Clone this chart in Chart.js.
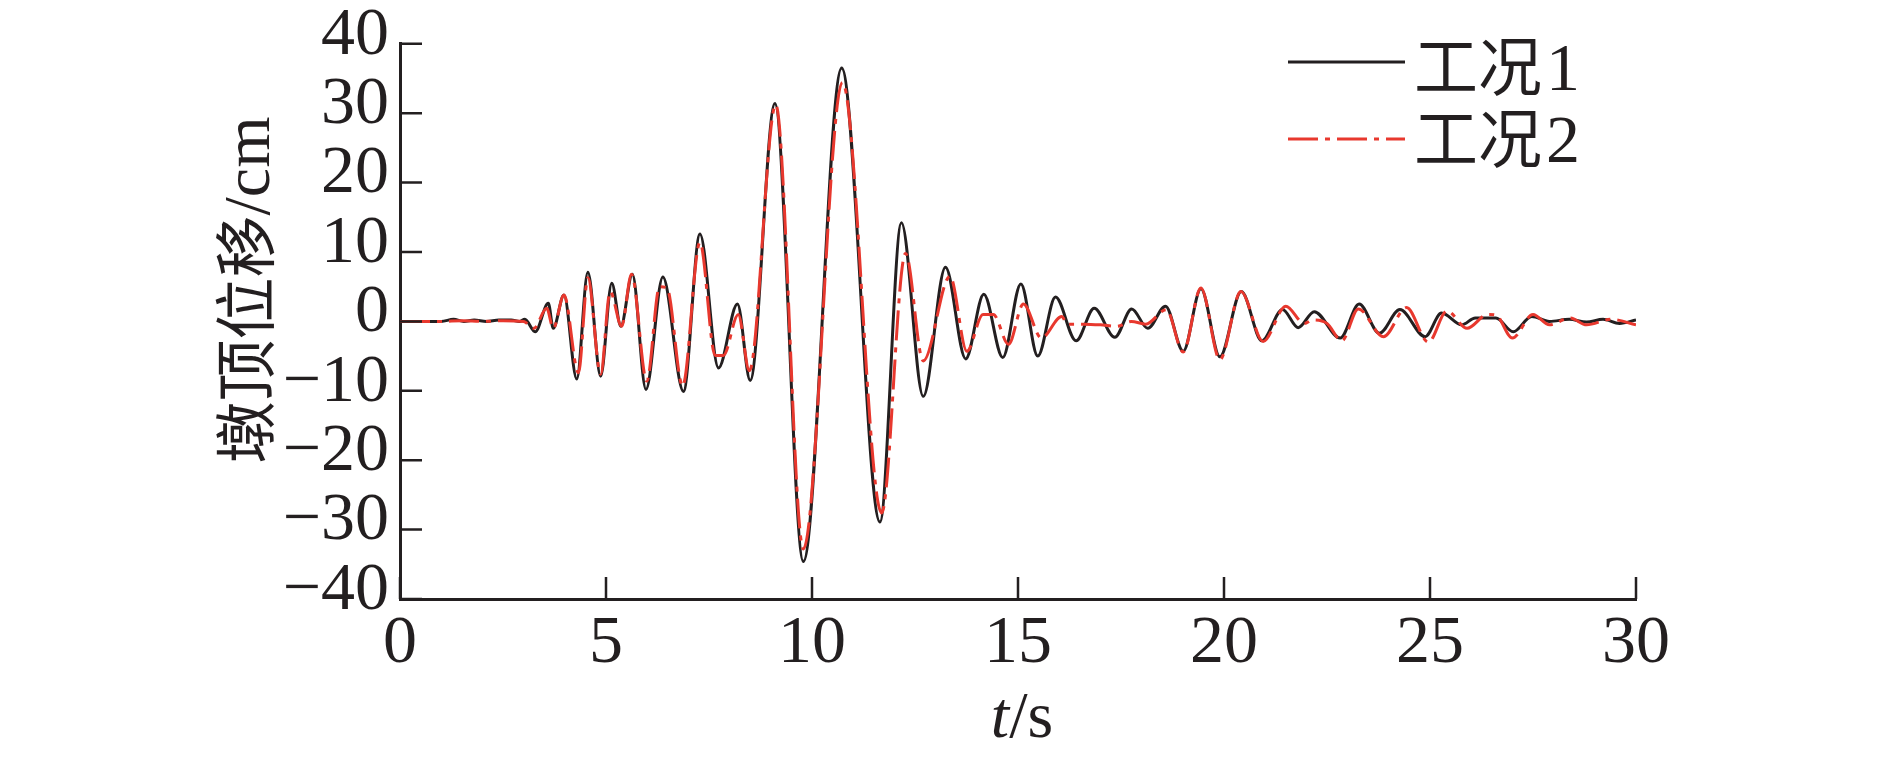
<!DOCTYPE html>
<html lang="zh">
<head>
<meta charset="UTF-8">
<title>墩顶位移时程</title>
<script src="https://cdn.jsdelivr.net/npm/chart.js"></script>
<style>
    body { margin: 0; background: #fff; }
    canvas { display: block; }
</style>
</head>
<body>
<canvas id="dispChart" width="1890" height="757"></canvas>
<script>
    // 工况1 (black solid)
    const t1 = [0, 0.5, 1.0, 1.3, 1.55, 1.8, 2.1, 2.4, 2.7, 2.9, 3.03, 3.28, 3.60, 3.72, 3.98,
        4.29, 4.56, 4.87, 5.14, 5.36, 5.64, 5.97, 6.38, 6.88, 7.28, 7.73, 8.19, 8.50, 9.10,
        9.79, 10.72, 11.65, 12.17, 12.70, 13.24, 13.73, 14.17, 14.63, 15.07, 15.48, 15.91,
        16.41, 16.85, 17.35, 17.76, 18.15, 18.58, 19.01, 19.44, 19.90, 20.42, 20.92, 21.42,
        21.80, 22.19, 22.82, 23.28, 23.77, 24.27, 24.88, 25.28, 25.77, 26.1, 26.6, 27.02,
        27.47, 27.9, 28.38, 28.8, 29.2, 29.6, 30];
    const d1 = [0, 0, 0, 0.3, 0, 0.2, 0, 0.2, 0.2, 0, 0.3, -1.5, 2.6, -1.0, 3.8,
        -8.3, 7.1, -7.9, 5.5, -0.7, 6.8, -9.8, 6.4, -10.1, 12.6, -6.7, 2.5, -8.5, 31.4,
        -34.6, 36.5, -28.9, 14.2, -10.8, 7.8, -5.4, 3.9, -5.2, 5.4, -5.0, 3.5,
        -2.8, 1.9, -2.3, 1.8, -1.0, 2.2, -4.3, 4.7, -5.1, 4.3, -2.8, 1.7,
        -0.9, 1.4, -2.4, 2.5, -1.7, 1.7, -2.2, 1.2, -0.5, 0.5, 0.5, -1.5,
        0.7, 0, 0.3, -0.1, 0.3, -0.3, 0.2];

    // 工况2 (red dash-dot)
    const t2 = [0, 1.0, 1.5, 2.0, 2.5, 3.0, 3.25, 3.56, 3.72, 3.98, 4.33, 4.56, 4.87, 5.10,
        5.38, 5.62, 5.99, 6.30, 6.48, 6.86, 7.28, 7.65, 7.85, 8.21, 8.48, 9.12, 9.79, 10.74,
        11.69, 12.27, 12.70, 13.35, 13.76, 14.15, 14.40, 14.77, 15.13, 15.57, 16.06, 16.2,
        16.6, 17.0, 17.4, 17.75, 18.1, 18.6, 19.01, 19.44, 19.90, 20.41, 20.95, 21.5, 21.95,
        22.15, 22.5, 22.86, 23.26, 23.87, 24.43, 24.96, 25.41, 25.9, 26.4, 26.6, 27.0, 27.5,
        27.9, 28.4, 28.8, 29.4, 30];
    const d2 = [0, 0, 0.1, 0, 0.1, 0, -1.0, 1.9, -1.0, 3.8, -7.4, 6.3, -7.6, 4.3,
        -0.7, 6.8, -8.6, 5.0, 4.8, -9.3, 11.4, -4.9, -4.9, 1.0, -7.1, 31.2, -32.8, 34.4,
        -27.6, 9.8, -5.7, 6.5, -4.3, 1.0, 1.0, -3.3, 2.5, -2.4, 0.7, -0.4,
        -0.4, -0.5, -0.7, 0, -0.4, 1.7, -4.4, 4.8, -5.5, 4.3, -2.9, 2.2, -0.3,
        0.2, -0.3, -2.8, 1.8, -2.2, 2.0, -3.0, 1.5, -1.0, 1.0, 0.9, -2.4, 1.0,
        -0.5, 0.5, -0.5, 0.3, -0.5];

    const xTicks = [0, 5, 10, 15, 20, 25, 30];
    const yTicks = [-40, -30, -20, -10, 0, 10, 20, 30, 40];
    const seriesNames = ['工况1', '工况2'];

    const ink = '#231f20';
    const red = '#e8382e';
    const serif = "'Liberation Serif', 'Times New Roman', serif";
    const cjk = "'Noto Sans CJK SC', sans-serif";
    const redDash = [30, 7, 5, 7];

    function toPoints(ts, vs) {
        return ts.map((t, i) => ({ x: t, y: vs[i] }));
    }

    // short tick marks pointing into the plot
    const innerTicks = {
        id: 'innerTicks',
        afterDatasetsDraw(chart) {
            const { ctx, chartArea: a, scales: { x, y } } = chart;
            ctx.save();
            ctx.strokeStyle = ink;
            ctx.lineWidth = 2.5;
            ctx.beginPath();
            xTicks.forEach(v => {
                const px = x.getPixelForValue(v);
                ctx.moveTo(px, a.bottom);
                ctx.lineTo(px, a.bottom - 22);
            });
            yTicks.forEach(v => {
                const py = y.getPixelForValue(v);
                ctx.moveTo(a.left, py);
                ctx.lineTo(a.left + 22, py);
            });
            ctx.stroke();
            ctx.restore();
        }
    };

    // axis titles and the legend
    const labels = {
        id: 'labels',
        afterDraw(chart) {
            const { ctx, chartArea: a } = chart;
            ctx.save();
            ctx.fillStyle = ink;
            ctx.textBaseline = 'alphabetic';
            ctx.textAlign = 'left';

            // x title: t/s
            ctx.font = 'italic 66px ' + serif;
            const wt = ctx.measureText('t').width;
            ctx.font = '66px ' + serif;
            const ws = ctx.measureText('/s').width;
            const cx = (a.left + a.right) / 2 + 4;
            ctx.font = 'italic 66px ' + serif;
            ctx.fillText('t', cx - (wt + ws) / 2, 737);
            ctx.font = '66px ' + serif;
            ctx.fillText('/s', cx - (wt + ws) / 2 + wt, 737);

            // y title: 墩顶位移/cm
            ctx.translate(269, 290);
            ctx.rotate(-Math.PI / 2);
            ctx.font = '62px ' + cjk;
            const w1 = ctx.measureText('墩顶位移').width;
            ctx.font = '66px ' + serif;
            const w2 = ctx.measureText('/cm').width;
            ctx.font = '62px ' + cjk;
            ctx.fillText('墩顶位移', -(w1 + w2) / 2, 0);
            ctx.font = '66px ' + serif;
            ctx.fillText('/cm', -(w1 + w2) / 2 + w1, 0);
            ctx.restore();

            // legend
            const rows = [
                { name: seriesNames[0], color: ink, dash: [], ly: 62, ty: 90 },
                { name: seriesNames[1], color: red, dash: redDash, ly: 139, ty: 162 }
            ];
            ctx.save();
            rows.forEach(r => {
                ctx.strokeStyle = r.color;
                ctx.lineWidth = 3;
                ctx.setLineDash(r.dash);
                ctx.beginPath();
                ctx.moveTo(1288, r.ly);
                ctx.lineTo(1405, r.ly);
                ctx.stroke();
                ctx.setLineDash([]);
                ctx.fillStyle = ink;
                ctx.textBaseline = 'alphabetic';
                ctx.font = '64px ' + cjk;
                const han = r.name.slice(0, 2);
                ctx.fillText(han, 1414, r.ty);
                const wh = ctx.measureText(han).width;
                ctx.font = '68px ' + serif;
                ctx.fillText(r.name.slice(2), 1414 + wh + 4, r.ty);
            });
            ctx.restore();
        }
    };

    const chart = new Chart(document.getElementById('dispChart'), {
        type: 'line',
        data: {
            datasets: [{
                label: seriesNames[0],
                data: toPoints(t1, d1),
                borderColor: ink,
                borderWidth: 3,
                pointRadius: 0,
                cubicInterpolationMode: 'monotone',
                order: 2
            }, {
                label: seriesNames[1],
                data: toPoints(t2, d2),
                borderColor: red,
                borderWidth: 3,
                borderDash: redDash,
                pointRadius: 0,
                cubicInterpolationMode: 'monotone',
                order: 1
            }]
        },
        options: {
            responsive: false,
            animation: false,
            layout: { padding: { left: 0, top: 40, right: 254, bottom: 0 } },
            plugins: {
                legend: { display: false },
                tooltip: { enabled: false }
            },
            scales: {
                x: {
                    type: 'linear',
                    min: 0,
                    max: 30,
                    afterBuildTicks: s => { s.ticks = xTicks.map(v => ({ value: v })); },
                    afterFit: s => { s.height = 158; },
                    grid: { display: false },
                    border: { display: true, color: ink, width: 3 },
                    ticks: {
                        color: ink,
                        padding: -4,
                        autoSkip: false,
                        maxRotation: 0,
                        font: { family: serif, size: 68 }
                    }
                },
                y: {
                    type: 'linear',
                    min: -40,
                    max: 40,
                    afterBuildTicks: s => { s.ticks = yTicks.map(v => ({ value: v })); },
                    afterFit: s => { s.width = 400; },
                    grid: { display: false },
                    border: { display: true, color: ink, width: 3 },
                    ticks: {
                        color: ink,
                        padding: 3,
                        autoSkip: false,
                        labelOffset: -8,
                        font: { family: serif, size: 68 },
                        callback: v => (v < 0 ? '\u2212' + Math.abs(v) : String(v))
                    }
                }
            }
        },
        plugins: [innerTicks, labels]
    });
</script>
</body>
</html>
